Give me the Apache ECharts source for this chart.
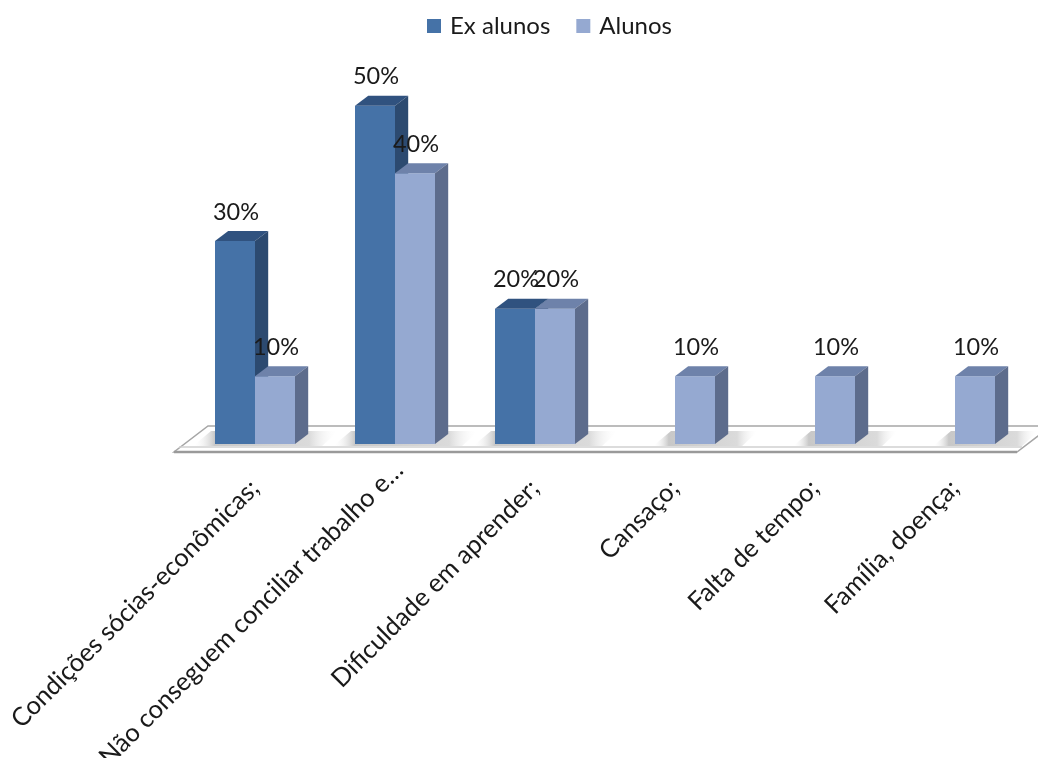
<!DOCTYPE html>
<html>
<head>
<meta charset="utf-8">
<script src="https://cdn.jsdelivr.net/npm/echarts@6/dist/echarts.min.js"></script>
<style>
  html, body { margin: 0; padding: 0; background: #ffffff; }
  #chart { width: 1038px; height: 758px; }
</style>
</head>
<body>
<div id="chart"></div>
<script>
const categories = ['Condições sócias-econômicas;', 'Não conseguem conciliar trabalho e…', 'Dificuldade em aprender;', 'Cansaço;', 'Falta de tempo;', 'Família, doença;'];
const exAlunos = [30, 50, 20, 0, 0, 0];
const alunos = [10, 40, 20, 10, 10, 10];
const seriesNames = ['Ex alunos', 'Alunos'];

const FONT = 'Lato, "Open Sans", sans-serif';
const AXIS_FONT_SIZE = 25.5;
const palette = [
  { front: '#4572A7', top: '#30527F', side: '#2C4A70' },
  { front: '#95A9D1', top: '#6E82AA', side: '#5D6C8C' }
];

// measure the long (truncated) category label so its box can be slightly narrower than its text,
// which slides it along its own direction like the original
const measureCtx = document.createElement('canvas').getContext('2d');
measureCtx.font = AXIS_FONT_SIZE + 'px ' + FONT;
const longLabelWidth = measureCtx.measureText(categories[1]).width;

function geometry(api, idx, slot) {
  const base = api.coord([idx, 0]);
  const band = api.size([1, 0])[0];
  const bw = band * 2 / 7;
  const xl = base[0] + (slot - 1) * bw;
  return { xl: xl, xr: xl + bw, y0: base[1], bw: bw, dx: bw * 0.33, dy: -bw * 0.25, band: band, cx: base[0] };
}

function barRenderer(slot) {
  const c = palette[slot];
  return function (params, api) {
    const idx = api.value(0);
    const v = api.value(1);
    if (!v) return { type: 'group', children: [] };
    const g = geometry(api, idx, slot);
    const y1 = api.coord([idx, v])[1];
    const { xl, xr, y0, dx, dy } = g;
    return {
      type: 'group',
      children: [
        { type: 'rect', shape: { x: xl, y: y1, width: xr - xl, height: y0 - y1 }, style: { fill: c.front } },
        { type: 'polygon', shape: { points: [[xl, y1], [xr, y1], [xr + dx, y1 + dy], [xl + dx, y1 + dy]] }, style: { fill: c.top } },
        { type: 'polygon', shape: { points: [[xr, y1], [xr + dx, y1 + dy], [xr + dx, y0 + dy], [xr, y0]] }, style: { fill: c.side } },
        { type: 'text', style: { text: v + '%', x: (xl + xr) / 2 + 1, y: y1 - 29, textAlign: 'center', textVerticalAlign: 'middle', font: '23.5px ' + FONT, fill: '#1a1a1a' } }
      ]
    };
  };
}

function floorRenderer(params, api) {
  const a = api.coord([0, 0]);
  const b = api.coord([categories.length - 1, 0]);
  const band = api.size([1, 0])[0];
  const x0 = a[0] - band / 2 - 11;
  const x1 = b[0] + band / 2 - 8;
  const yTop = a[1] + 3;
  const yBot = a[1] + 8;
  const ddx = 34, ddy = -26;
  return {
    type: 'group',
    children: [
      { type: 'polygon', shape: { points: [[x0, yBot], [x1, yBot], [x1 + ddx, yBot + ddy], [x0 + ddx, yBot + ddy]] },
        style: { fill: '#ffffff', stroke: '#A6A6A6', lineWidth: 1.5 } },
      { type: 'line', shape: { x1: x0 + 5, y1: yTop, x2: x1 + 5, y2: yTop }, style: { stroke: '#D0D0D0', lineWidth: 1.5 } },
      { type: 'line', shape: { x1: x0, y1: yBot, x2: x1, y2: yBot }, style: { stroke: '#9A9A9A', lineWidth: 2.5 } }
    ]
  };
}

function shadowRenderer(params, api) {
  const idx = api.value(0);
  const ex = api.value(1);
  const g0 = geometry(api, idx, 0);
  const g1 = geometry(api, idx, 1);
  const left = ex ? g0.xl : g1.xl;
  const right = g1.xr + g1.dx;
  const y0 = g1.y0;
  return {
    type: 'polygon',
    shape: { points: [[left - 22, y0 + 2], [right + 14, y0 + 2], [right + 30, y0 - 13], [left - 4, y0 - 13]] },
    style: {
      fill: {
        type: 'linear', x: 0, y: 0, x2: 1, y2: 0,
        colorStops: [
          { offset: 0, color: 'rgba(255,255,255,0)' },
          { offset: 0.15, color: 'rgba(110,110,110,0.38)' },
          { offset: 0.8, color: 'rgba(110,110,110,0.25)' },
          { offset: 1, color: 'rgba(255,255,255,0)' }
        ]
      }
    }
  };
}

const chart = echarts.init(document.getElementById('chart'), null, { renderer: 'canvas' });
chart.setOption({
  animation: false,
  backgroundColor: '#ffffff',
  legend: {
    data: seriesNames,
    left: 422,
    top: 9,
    icon: 'rect',
    itemWidth: 14,
    itemHeight: 14,
    itemGap: 26,
    textStyle: { fontFamily: FONT, fontSize: 24, color: '#1a1a1a', padding: [0, 0, 0, 4] }
  },
  grid: { left: 185, right: 13, top: 38, bottom: 314, containLabel: false, outerBoundsMode: 'none' },
  xAxis: {
    type: 'category',
    data: categories,
    axisLine: { show: false },
    axisTick: { show: false },
    axisLabel: {
      interval: 0, rotate: 45, margin: 40,
      fontFamily: FONT, fontSize: AXIS_FONT_SIZE, color: '#1a1a1a',
      formatter: function (value, index) { return index === 1 ? '{long|' + value + '}' : value; },
      rich: {
        long: {
          fontFamily: FONT, fontSize: AXIS_FONT_SIZE, color: '#1a1a1a',
          width: Math.round(longLabelWidth - 16), align: 'left',
          lineHeight: 46, verticalAlign: 'top'
        }
      }
    }
  },
  yAxis: { type: 'value', min: 0, max: 60, show: false, splitLine: { show: false } },
  series: [
    { name: 'floor', type: 'custom', renderItem: floorRenderer, data: [[0, 0]], silent: true, z: 1 },
    { name: 'shadow', type: 'custom', renderItem: shadowRenderer, data: categories.map((c, i) => [i, exAlunos[i], alunos[i]]), silent: true, z: 2 },
    { name: seriesNames[0], type: 'custom', renderItem: barRenderer(0), itemStyle: { color: palette[0].front },
      data: categories.map((c, i) => [i, exAlunos[i]]), encode: { x: 0, y: 1 }, z: 3 },
    { name: seriesNames[1], type: 'custom', renderItem: barRenderer(1), itemStyle: { color: palette[1].front },
      data: categories.map((c, i) => [i, alunos[i]]), encode: { x: 0, y: 1 }, z: 4 }
  ]
});
</script>
</body>
</html>
